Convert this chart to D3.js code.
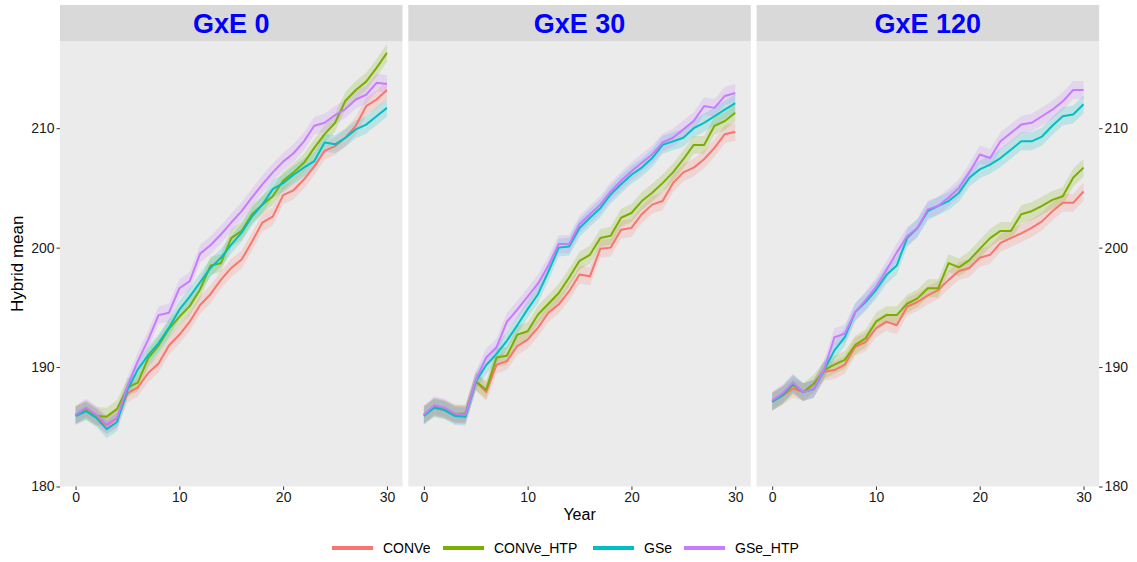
<!DOCTYPE html>
<html>
<head>
<meta charset="utf-8">
<script src="https://cdn.jsdelivr.net/npm/d3@7"></script>
<style>
  html, body { margin: 0; padding: 0; background: #ffffff; }
  svg { display: block; font-family: "Liberation Sans", Arial, Helvetica, sans-serif; }
</style>
</head>
<body>
<svg id="chart" width="1137" height="562"></svg>
<script>
// ---- data ----
const years = [0,1,2,3,4,5,6,7,8,9,10,11,12,13,14,15,16,17,18,19,20,21,22,23,24,25,26,27,28,29,30];
const strategies = ["CONVe", "CONVe_HTP", "GSe", "GSe_HTP"];
const panels = ["GxE 0", "GxE 30", "GxE 120"];
const yTicks = [180, 190, 200, 210];
const xTicks = [0, 10, 20, 30];
const ribbonHalfWidth = 0.75;   // half width of the confidence band, in trait units

// GxE 0
const gxe0_CONVe     = [186.0,186.4,185.8,185.1,185.7,187.8,188.3,189.5,190.3,191.8,192.7,193.8,195.2,196.1,197.3,198.3,199.0,200.5,202.1,202.6,204.4,204.8,205.7,206.8,208.1,208.5,209.2,210.2,211.85,212.4,213.2];
const gxe0_CONVe_HTP = [186.0,186.45,185.9,185.85,186.5,188.3,188.7,190.75,191.8,193.2,194.2,195.1,196.5,198.5,198.7,200.8,201.4,202.8,203.6,204.3,205.6,206.3,207.1,208.35,209.5,210.45,212.3,213.2,213.9,215.05,216.3];
const gxe0_GSe       = [185.9,186.3,185.75,184.8,185.4,188.1,189.8,191.0,192.0,193.3,194.8,195.9,197.1,198.3,199.15,200.25,201.25,202.6,203.6,204.9,205.4,206.1,206.7,207.25,208.8,208.65,209.2,209.9,210.3,211.0,211.7];
const gxe0_GSe_HTP   = [186.0,186.6,186.0,185.2,185.75,188.4,190.5,192.3,194.35,194.55,196.6,197.2,199.5,200.2,201.1,202.1,203.05,204.2,205.3,206.3,207.2,207.9,208.9,210.2,210.45,211.1,211.6,212.4,212.8,213.8,213.7];

// GxE 30
const gxe30_CONVe     = [186.0,186.6,186.4,186.0,186.0,188.8,187.9,190.2,190.5,191.75,192.3,193.3,194.55,195.25,196.35,197.75,197.6,199.9,200.0,201.5,201.65,202.8,203.6,203.9,205.4,206.3,206.7,207.4,208.35,209.5,209.7];
const gxe30_CONVe_HTP = [186.0,186.7,186.5,186.1,186.1,188.8,188.1,190.8,190.95,192.7,193.0,194.4,195.3,196.2,197.5,198.9,199.4,200.8,201.0,202.5,202.9,203.9,204.6,205.4,206.3,207.4,208.6,208.6,210.2,210.6,211.3];
const gxe30_GSe       = [185.9,186.6,186.4,185.9,185.85,188.8,190.15,191.1,192.2,193.5,194.85,196.1,198.0,200.0,200.1,201.65,202.5,203.3,204.45,205.3,206.1,206.7,207.5,208.6,208.9,209.2,210.0,210.45,211.0,211.55,212.1];
const gxe30_GSe_HTP   = [186.0,186.8,186.6,186.1,186.0,188.9,190.8,191.65,193.8,194.8,195.9,197.0,198.5,200.3,200.3,201.95,202.8,203.6,204.7,205.6,206.4,207.1,207.8,208.8,209.2,209.9,210.6,211.85,211.7,212.7,212.95];

// GxE 120
const gxe120_CONVe     = [187.1,187.6,188.2,187.9,188.2,189.6,189.75,190.2,191.7,192.1,193.25,193.8,193.5,195.05,195.45,196.0,196.45,197.3,198.05,198.3,199.15,199.4,200.4,200.8,201.2,201.65,202.2,203.05,203.75,203.75,204.7];
const gxe120_CONVe_HTP = [187.1,187.65,188.5,187.9,188.6,189.75,190.2,190.6,191.85,192.4,193.8,194.35,194.35,195.3,195.75,196.6,196.6,198.7,198.35,198.95,199.9,200.8,201.4,201.4,202.8,203.05,203.5,204.0,204.3,205.85,206.7];
const gxe120_GSe       = [187.1,187.65,188.6,187.9,188.15,189.75,191.4,192.5,194.6,195.45,196.45,197.7,198.5,200.8,201.65,203.05,203.5,203.9,204.6,205.85,206.55,206.95,207.5,208.2,208.9,208.9,209.3,210.2,211.0,211.15,212.0];
const gxe120_GSe_HTP   = [187.2,187.8,188.7,187.9,188.2,189.8,192.5,192.8,194.6,195.6,196.7,198.1,199.6,200.95,201.65,203.2,203.5,204.2,205.0,206.3,207.8,207.5,208.9,209.6,210.3,210.45,211.0,211.55,212.25,213.2,213.2];

const panelSeries = [
  [gxe0_CONVe, gxe0_CONVe_HTP, gxe0_GSe, gxe0_GSe_HTP],
  [gxe30_CONVe, gxe30_CONVe_HTP, gxe30_GSe, gxe30_GSe_HTP],
  [gxe120_CONVe, gxe120_CONVe_HTP, gxe120_GSe, gxe120_GSe_HTP]
];

// ---- layout ----
const colors = d3.scaleOrdinal().domain(strategies).range(["#F8766D", "#7CAE00", "#00BFC4", "#C77CFF"]);
const svg = d3.select("#chart");
const panelLeft = 60, panelW = 342.5, panelGap = 5.8;
const stripTop = 5, stripH = 36;
const plotTop = stripTop + stripH, plotBottom = 486.5;

const x = d3.scaleLinear().domain([-1.5, 31.5]).range([0, panelW]);
const y = d3.scaleLinear().domain([180, 217.3]).range([plotBottom, plotTop]);

panels.forEach((title, p) => {
  const px = panelLeft + p * (panelW + panelGap);
  const g = svg.append("g").attr("transform", `translate(${px},0)`);

  // strip
  g.append("rect").attr("x", 0).attr("y", stripTop).attr("width", panelW).attr("height", stripH).attr("fill", "#D9D9D9");
  g.append("text").attr("x", panelW / 2).attr("y", stripTop + stripH / 2 + 9.5)
    .attr("text-anchor", "middle").attr("font-size", 27).attr("font-weight", "bold")
    .attr("fill", "#0000FF").text(title);

  // panel background
  g.append("rect").attr("x", 0).attr("y", plotTop).attr("width", panelW).attr("height", plotBottom - plotTop).attr("fill", "#EBEBEB");

  const series = strategies.map((s, i) => ({ name: s, values: panelSeries[p][i].map((v, j) => ({ year: years[j], v })) }));

  const area = d3.area().x(d => x(d.year)).y0(d => y(d.v - ribbonHalfWidth)).y1(d => y(d.v + ribbonHalfWidth));
  const line = d3.line().x(d => x(d.year)).y(d => y(d.v));

  g.selectAll("path.band").data(series).join("path").attr("class", "band")
    .attr("d", d => area(d.values)).attr("fill", d => colors(d.name)).attr("fill-opacity", 0.2).attr("stroke", "none");
  g.selectAll("path.trend").data(series).join("path").attr("class", "trend")
    .attr("d", d => line(d.values)).attr("fill", "none").attr("stroke", d => colors(d.name))
    .attr("stroke-width", 2).attr("stroke-linejoin", "round");

  // x axis
  const xa = g.append("g").attr("transform", `translate(0,${plotBottom})`)
    .call(d3.axisBottom(x).tickValues(xTicks).tickSize(3.5).tickPadding(2));
  xa.select(".domain").remove();
  xa.selectAll("line").attr("stroke", "#333").attr("stroke-width", 1);
  xa.selectAll("text").attr("font-size", 14).attr("fill", "#1a1a1a").attr("font-family", "Liberation Sans, Arial, sans-serif");

  if (p === 0) {
    const ya = g.append("g").call(d3.axisLeft(y).tickValues(yTicks).tickSize(3.5).tickPadding(2));
    ya.select(".domain").remove();
    ya.selectAll("line").attr("stroke", "#333");
    ya.selectAll("text").attr("font-size", 14).attr("fill", "#1a1a1a").attr("font-family", "Liberation Sans, Arial, sans-serif");
  }
  if (p === panels.length - 1) {
    const ya = g.append("g").attr("transform", `translate(${panelW},0)`)
      .call(d3.axisRight(y).tickValues(yTicks).tickSize(3.5).tickPadding(2));
    ya.select(".domain").remove();
    ya.selectAll("line").attr("stroke", "#333");
    ya.selectAll("text").attr("font-size", 14).attr("fill", "#1a1a1a").attr("font-family", "Liberation Sans, Arial, sans-serif");
  }
});

// axis titles
const totalW = 3 * panelW + 2 * panelGap;
svg.append("text").attr("x", panelLeft + totalW / 2).attr("y", 520)
  .attr("text-anchor", "middle").attr("font-size", 16).attr("fill", "#000").text("Year");
svg.append("text").attr("transform", `translate(23,${(plotTop + plotBottom) / 2}) rotate(-90)`)
  .attr("text-anchor", "middle").attr("font-size", 17).attr("fill", "#000").text("Hybrid mean");

// legend
const legendItems = [
  { name: "CONVe", x: 332 },
  { name: "CONVe_HTP", x: 443 },
  { name: "GSe", x: 593 },
  { name: "GSe_HTP", x: 684 }
];
const lg = svg.append("g");
legendItems.forEach(it => {
  lg.append("line").attr("x1", it.x).attr("x2", it.x + 41).attr("y1", 548).attr("y2", 548)
    .attr("stroke", colors(it.name)).attr("stroke-width", 4);
  lg.append("text").attr("x", it.x + 51).attr("y", 553).attr("font-size", 14).attr("fill", "#000").text(it.name);
});
</script>
</body>
</html>
